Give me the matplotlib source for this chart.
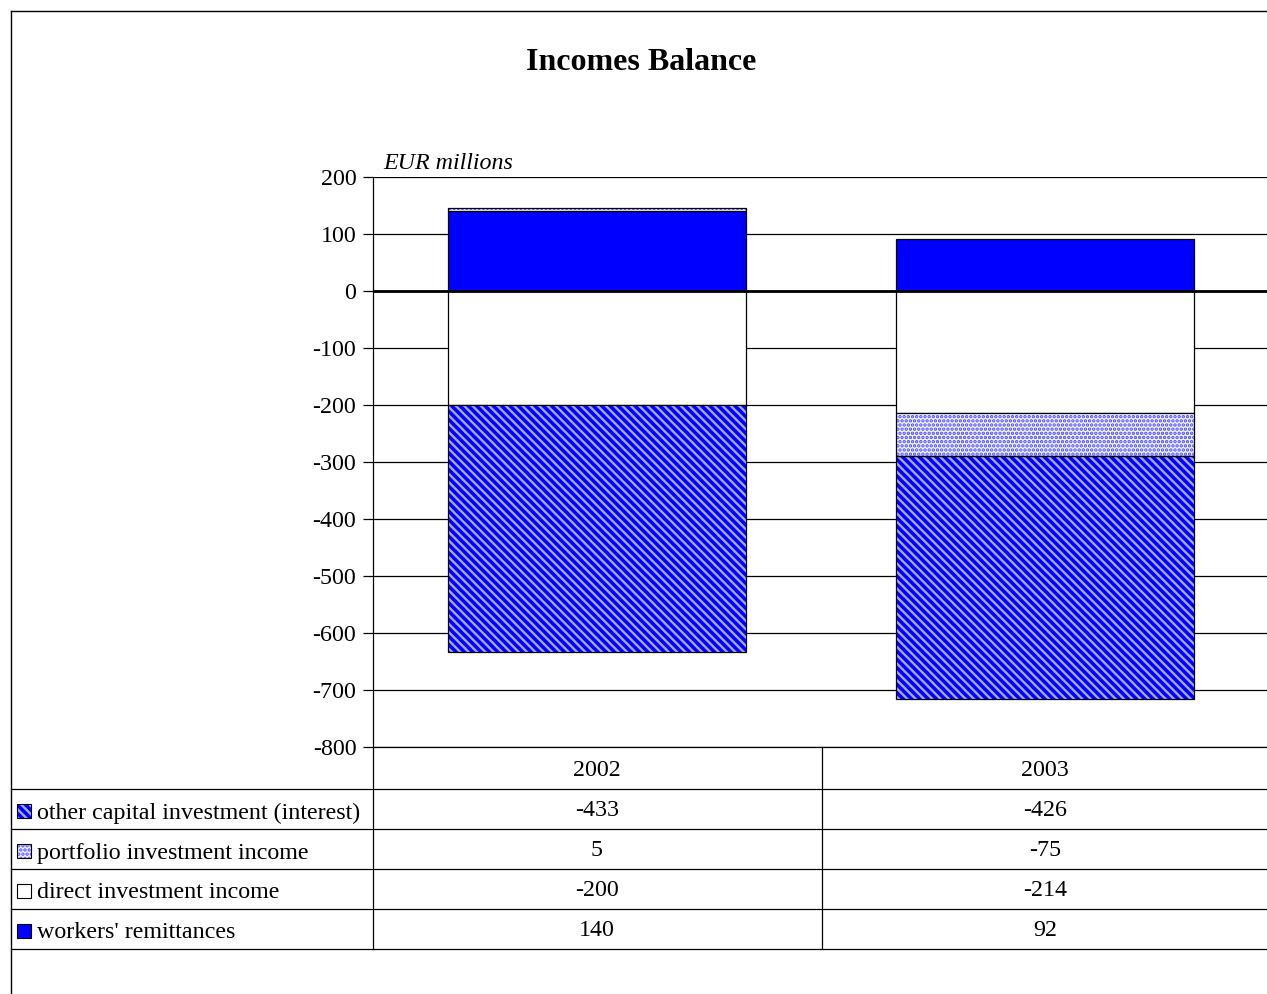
import matplotlib.pyplot as plt
import matplotlib.transforms as mtransforms
from matplotlib.lines import Line2D
from matplotlib.patches import Rectangle

plt.rcParams['font.family'] = ['Liberation Serif', 'DejaVu Serif']
plt.rcParams['hatch.linewidth'] = 1.7
plt.rcParams['axes.unicode_minus'] = False

years = ['2002', '2003']
series = ['workers\' remittances', 'direct investment income',
          'portfolio investment income', 'other capital investment (interest)']
workers = [140, 92]
direct = [-200, -214]
portfolio = [5, -75]
other_capital = [-433, -426]
values = [workers, direct, portfolio, other_capital]

# fill, hatch, hatch colour for each series
styles = [('#0000ff', None, None),
          ('white', None, None),
          ('#f4f4ff', '....', '#4a4aff'),
          ('#0000ff', '\\\\\\\\', '#a8a8ff')]

FS = 17.3
W, H = 1267, 994
fig = plt.figure(figsize=(W / 100, H / 100), dpi=100)

# overlay in pixel coordinates for the frame and the data table
ov = fig.add_axes([0, 0, 1, 1])
ov.set_xlim(0, W)
ov.set_ylim(H, 0)
ov.axis('off')

ax = fig.add_axes([373 / W, 1 - 747 / H, 896 / W, 570 / H])
ax.set_xlim(-0.5, 1.5)
ax.set_ylim(-800, 200)
ax.set_yticks(range(-800, 201, 100))
ax.set_xticks([])
ax.yaxis.grid(True, color='black', linewidth=0.9)
ax.set_axisbelow(True)
for s in ['top', 'right', 'bottom']:
    ax.spines[s].set_visible(False)
ax.spines['left'].set_linewidth(0.9)
ax.tick_params(axis='y', labelsize=FS, length=7, width=0.9, pad=5)
ax.patch.set_alpha(0)

xs = list(range(len(years)))
width = 0.667
pos_base = [0] * len(years)
neg_base = [0] * len(years)
for vals, (fc, hatch, hc) in zip(values, styles):
    bottoms = []
    for i, v in enumerate(vals):
        if v >= 0:
            bottoms.append(pos_base[i])
            pos_base[i] += v
        else:
            bottoms.append(neg_base[i])
            neg_base[i] += v
    if hatch:
        ax.bar(xs, vals, width, bottom=bottoms, color=fc, hatch=hatch,
               edgecolor=hc, linewidth=0, zorder=2)
        ax.bar(xs, vals, width, bottom=bottoms, fill=False,
               edgecolor='black', linewidth=0.9, zorder=3)
    else:
        ax.bar(xs, vals, width, bottom=bottoms, color=fc,
               edgecolor='black', linewidth=0.9, zorder=2)

ax.axhline(0, color='black', linewidth=2, zorder=4)

ax.text(0.012, 1.006, 'EUR millions', transform=ax.transAxes, fontsize=FS,
        style='italic', ha='left', va='bottom')

fig.text(641 / W, 1 - 63 / H, 'Incomes Balance', fontsize=23, weight='bold',
         ha='center', va='center')

# outer frame
ov.add_line(Line2D([11, 11], [11, H], color='black', linewidth=1))
ov.add_line(Line2D([11, W], [11, 11], color='black', linewidth=1))

# data table below the axes
row_edges = [747, 789, 829, 869, 909, 949]
ov.add_line(Line2D([373, W], [747, 747], color='black', linewidth=0.9))
for y in row_edges[1:]:
    ov.add_line(Line2D([11, W], [y, y], color='black', linewidth=0.9))
ov.add_line(Line2D([373, 373], [747, 949], color='black', linewidth=0.9))
ov.add_line(Line2D([822, 822], [747, 949], color='black', linewidth=0.9))

blend = mtransforms.blended_transform_factory(ax.transData, ov.transData)
for i, yr in enumerate(years):
    ov.text(i, 770, yr, transform=blend, ha='center', va='center', fontsize=FS)

table_rows = list(zip(series, values, styles))[::-1]
for r, (name, vals, (fc, hatch, hc)) in enumerate(table_rows):
    yc = (row_edges[r + 1] + row_edges[r + 2]) / 2
    ov.add_patch(Rectangle((17, yc - 5), 14, 14, facecolor=fc, hatch=hatch,
                           edgecolor=hc if hatch else 'black', linewidth=0))
    ov.add_patch(Rectangle((17, yc - 5), 14, 14, fill=False,
                           edgecolor='black', linewidth=0.8))
    ov.text(37, yc + 4, name, ha='left', va='center', fontsize=FS)
    for i, v in enumerate(vals):
        ov.text(i, yc + 2, str(v), transform=blend, ha='center', va='center',
                fontsize=FS)

fig.savefig('out.png', dpi=100)
